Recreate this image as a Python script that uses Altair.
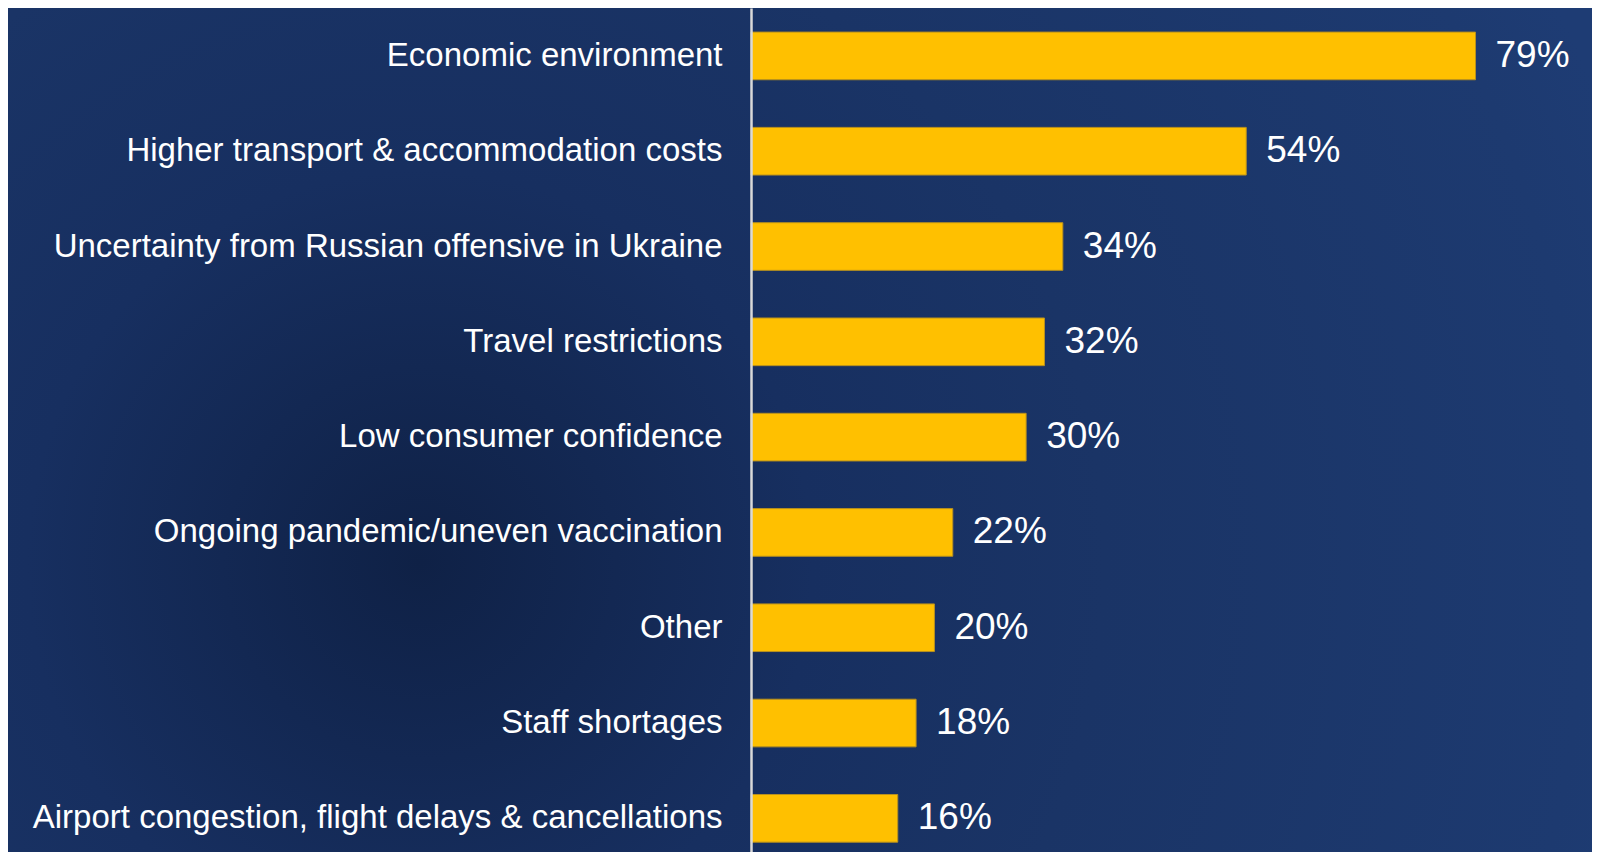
import altair as alt
import pandas as pd

categories = [
    "Economic environment",
    "Higher transport & accommodation costs",
    "Uncertainty from Russian offensive in Ukraine",
    "Travel restrictions",
    "Low consumer confidence",
    "Ongoing pandemic/uneven vaccination",
    "Other",
    "Staff shortages",
    "Airport congestion, flight delays & cancellations",
]
values = [79, 54, 34, 32, 30, 22, 20, 18, 16]

df = pd.DataFrame({"category": categories, "value": values})

LEFT = 743
W, H = 1584 - LEFT, 844
FONT = "Liberation Sans"

x_scale = alt.Scale(domain=[0, 91.7], nice=False)
y_scale = alt.Scale(domain=categories, paddingInner=0.5, paddingOuter=0.178, align=0.71)

y_axis = alt.Axis(
    title=None, ticks=False, labelPadding=29, labelFont=FONT, labelFontSize=33,
    labelColor="white", labelLimit=0, domainColor="#d9d9d9", domainWidth=2.5,
    grid=False, zindex=2,
)

bg_gradient = alt.RadialGradient(
    gradient="radial",
    x1=0.26, y1=0.584, r1=0.0,
    x2=0.26, y2=0.584, r2=0.8,
    stops=[
        alt.GradientStop(offset=0.0, color="#0f2146"),
        alt.GradientStop(offset=0.31, color="#172f60"),
        alt.GradientStop(offset=0.54, color="#1a3466"),
        alt.GradientStop(offset=0.92, color="#1d3a70"),
        alt.GradientStop(offset=1.0, color="#1e3c74"),
    ],
)

background = alt.Chart(pd.DataFrame({"a": [0]})).mark_rect(fill=bg_gradient, strokeWidth=0).encode(
    x=alt.value(-LEFT), x2=alt.value(W), y=alt.value(0), y2=alt.value(H)
)

base = alt.Chart(df)

bars = base.mark_bar(color="#FFC000", stroke="#b8901e", strokeWidth=1).encode(
    x=alt.X("value:Q", scale=x_scale, axis=None),
    y=alt.Y("category:N", scale=y_scale, axis=y_axis),
)

val_labels = base.transform_calculate(label="datum.value + '%'").mark_text(
    align="left", baseline="middle", dx=20, font=FONT, fontSize=37, color="white"
).encode(
    x=alt.X("value:Q", scale=x_scale, axis=None),
    y=alt.Y("category:N", scale=y_scale, axis=y_axis),
    text="label:N",
)

chart = alt.layer(background, bars, val_labels).properties(
    width=W, height=H, autosize="none",
    padding={"left": LEFT, "top": 0, "right": 0, "bottom": 0},
    background="#172f60",
).configure_view(strokeWidth=0)

chart.save("out.html", embed_options={"renderer": "svg", "actions": False})
